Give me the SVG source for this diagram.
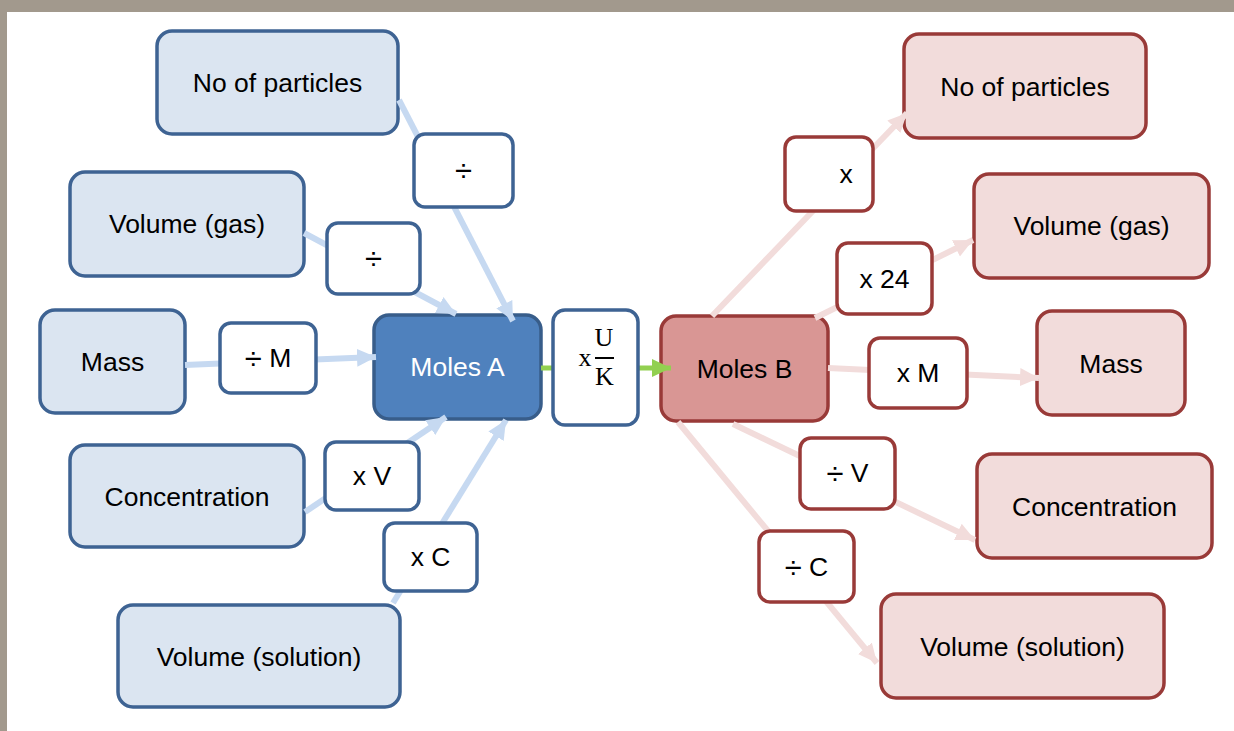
<svg xmlns="http://www.w3.org/2000/svg" width="1234" height="731" viewBox="0 0 1234 731">
<defs>
<style>
.t{font-family:"Liberation Sans",Arial,sans-serif;font-size:26.5px;fill:#000;text-anchor:middle;dominant-baseline:central}
.tw{fill:#fff}
.dv{font-size:31px}
.ser{font-family:"Liberation Serif","Times New Roman",serif;font-size:26px;fill:#000;text-anchor:middle;dominant-baseline:central}
.bn{fill:#dbe5f1;stroke:#3e6393;stroke-width:3.5}
.rn{fill:#f2dcdb;stroke:#993a38;stroke-width:3.5}
.bl{fill:#fff;stroke:#3e6393;stroke-width:3.5}
.rl{fill:#fff;stroke:#993a38;stroke-width:3.5}
.bc{stroke:#c6d9f1;stroke-width:6;fill:none}
.rc{stroke:#f2dcdb;stroke-width:6;fill:none}
.gc{stroke:#92d050;stroke-width:5;fill:none}
</style>
<marker id="ab" markerUnits="userSpaceOnUse" markerWidth="20" markerHeight="20" refX="19" refY="10" orient="auto"><path d="M0,1 L19,10 L0,19 z" fill="#c6d9f1"/></marker>
<marker id="ar" markerUnits="userSpaceOnUse" markerWidth="20" markerHeight="20" refX="19" refY="10" orient="auto"><path d="M0,1 L19,10 L0,19 z" fill="#f2dcdb"/></marker>
<marker id="ag" markerUnits="userSpaceOnUse" markerWidth="20" markerHeight="20" refX="19" refY="10" orient="auto"><path d="M0,1 L19,10 L0,19 z" fill="#92d050"/></marker>
</defs>
<rect x="0" y="0" width="1234" height="731" fill="#ffffff"/>
<rect x="0" y="0" width="1234" height="12" fill="#a2998d"/>
<rect x="0" y="0" width="7" height="731" fill="#a2998d"/>

<g id="nodes-main">
<g id="a-particles"><rect class="bn" x="157" y="31" width="241" height="103" rx="15"/><text class="t" x="277.5" y="83">No of particles</text></g>
<g id="a-volgas"><rect class="bn" x="70" y="172" width="234" height="104" rx="15"/><text class="t" x="187" y="224">Volume (gas)</text></g>
<g id="a-mass"><rect class="bn" x="40" y="310" width="145" height="103" rx="15"/><text class="t" x="112.5" y="362">Mass</text></g>
<g id="a-conc"><rect class="bn" x="70" y="445" width="234" height="102" rx="15"/><text class="t" x="187" y="497">Concentration</text></g>
<g id="a-volsol"><rect class="bn" x="118" y="605" width="282" height="102" rx="15"/><text class="t" x="259" y="657">Volume (solution)</text></g>
<g id="moles-a"><rect x="374" y="315" width="167" height="104" rx="15" fill="#4f81bd" stroke="#385d8a" stroke-width="3.5"/><text class="t tw" x="457.5" y="367">Moles A</text></g>
<g id="moles-b"><rect x="661" y="316" width="167" height="105" rx="15" fill="#d99694" stroke="#993a38" stroke-width="3.5"/><text class="t" x="744.5" y="369">Moles B</text></g>
<g id="b-particles"><rect class="rn" x="904" y="34" width="242" height="104" rx="15"/><text class="t" x="1025" y="87">No of particles</text></g>
<g id="b-volgas"><rect class="rn" x="974" y="174" width="235" height="104" rx="15"/><text class="t" x="1091.5" y="226">Volume (gas)</text></g>
<g id="b-mass"><rect class="rn" x="1037" y="311" width="148" height="104" rx="15"/><text class="t" x="1111" y="364">Mass</text></g>
<g id="b-conc"><rect class="rn" x="977" y="454" width="235" height="104" rx="15"/><text class="t" x="1094.5" y="507">Concentration</text></g>
<g id="b-volsol"><rect class="rn" x="881" y="594" width="283" height="104" rx="15"/><text class="t" x="1022.5" y="647">Volume (solution)</text></g>
</g>

<g id="connectors">
<line class="bc" x1="399" y1="100" x2="513" y2="321" marker-end="url(#ab)"/>
<line class="bc" x1="304" y1="233" x2="456" y2="314" marker-end="url(#ab)"/>
<line class="bc" x1="185" y1="365" x2="376" y2="357" marker-end="url(#ab)"/>
<line class="bc" x1="305" y1="512" x2="446" y2="417" marker-end="url(#ab)"/>
<line class="bc" x1="393" y1="603" x2="506" y2="420" marker-end="url(#ab)"/>
<line class="gc" x1="541" y1="368" x2="671" y2="368" marker-end="url(#ag)"/>
<line class="rc" x1="712" y1="316" x2="907" y2="113" marker-end="url(#ar)"/>
<line class="rc" x1="815" y1="318" x2="973" y2="240" marker-end="url(#ar)"/>
<line class="rc" x1="828" y1="368" x2="1039" y2="378" marker-end="url(#ar)"/>
<line class="rc" x1="733" y1="424" x2="975" y2="540" marker-end="url(#ar)"/>
<line class="rc" x1="678" y1="422" x2="877" y2="663" marker-end="url(#ar)"/>
</g>

<g id="labels">
<g id="l-div1"><rect class="bl" x="414" y="134" width="99" height="73" rx="11"/><text class="t dv" x="463.5" y="170">÷</text></g>
<g id="l-div2"><rect class="bl" x="327" y="223" width="93" height="71" rx="11"/><text class="t dv" x="373.5" y="258">÷</text></g>
<g id="l-divm"><rect class="bl" x="220" y="323" width="96" height="70" rx="11"/><text class="t" x="268" y="358"><tspan class="dv">÷</tspan> M</text></g>
<g id="l-xv"><rect class="bl" x="325" y="442" width="94" height="68" rx="11"/><text class="t" x="372" y="476">x V</text></g>
<g id="l-xc"><rect class="bl" x="384" y="523" width="93" height="68" rx="11"/><text class="t" x="430.5" y="557">x C</text></g>
<g id="l-uk"><rect class="bl" x="553" y="310" width="85" height="115" rx="12"/>
<text class="ser" x="585" y="357">x</text>
<text class="ser" x="604" y="337">U</text>
<line x1="595" y1="358" x2="614" y2="358" stroke="#000" stroke-width="2"/>
<text class="ser" x="604.5" y="376">K</text></g>
<g id="l-x"><rect class="rl" x="785" y="137" width="88" height="74" rx="11"/><text class="t" x="846" y="174">x</text></g>
<g id="l-x24"><rect class="rl" x="837" y="243" width="95" height="71" rx="11"/><text class="t" x="884.5" y="279">x 24</text></g>
<g id="l-xm"><rect class="rl" x="869" y="338" width="98" height="70" rx="11"/><text class="t" x="918" y="373">x M</text></g>
<g id="l-divv"><rect class="rl" x="800" y="438" width="95" height="71" rx="11"/><text class="t" x="847.5" y="473"><tspan class="dv">÷</tspan> V</text></g>
<g id="l-divc"><rect class="rl" x="759" y="531" width="95" height="71" rx="11"/><text class="t" x="806.5" y="567"><tspan class="dv">÷</tspan> C</text></g>
</g>
</svg>
